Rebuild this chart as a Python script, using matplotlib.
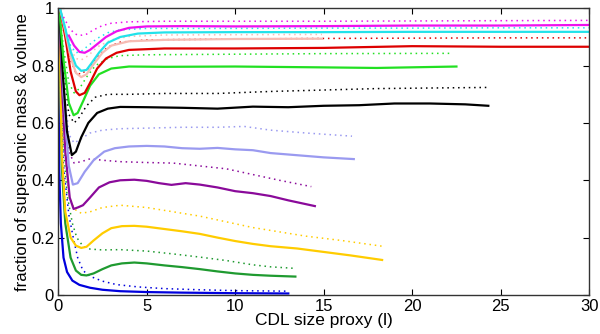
import matplotlib
matplotlib.use("Agg")
import matplotlib.pyplot as plt

plt.rcParams["font.family"] = ["Liberation Sans", "DejaVu Sans"]
plt.rcParams["font.size"] = 12

# (color, x, y) for each solid curve (mass) and dotted curve (volume)
magenta_x = [0.6, 0.9, 1.2, 1.5, 1.8, 2.2, 2.7, 3.3, 4, 5, 7, 10, 15, 20, 25, 30]
magenta_y = [0.905, 0.87, 0.848, 0.845, 0.855, 0.875, 0.9, 0.92, 0.932, 0.937, 0.938, 0.937, 0.938, 0.94, 0.94, 0.942]
magenta_dx = [0.3, 0.6, 0.9, 1.2, 1.6, 2.0, 2.5, 3.0, 4, 6, 10, 15, 20, 25, 30]
magenta_dy = [0.97, 0.935, 0.912, 0.905, 0.91, 0.925, 0.94, 0.948, 0.953, 0.955, 0.955, 0.955, 0.956, 0.957, 0.958]

cyan_x = [0.1, 0.4, 0.7, 1.0, 1.3, 1.6, 1.9, 2.3, 2.8, 3.5, 4.5, 6, 10, 15, 20, 25, 30]
cyan_y = [1.0, 0.93, 0.85, 0.8, 0.782, 0.785, 0.81, 0.845, 0.88, 0.9, 0.912, 0.916, 0.917, 0.917, 0.918, 0.918, 0.918]
cyan_dx = [0.1, 0.4, 0.7, 1.0, 1.3, 1.7, 2.2, 2.8, 3.5, 5, 10, 15, 20, 25, 30]
cyan_dy = [1.0, 0.93, 0.87, 0.845, 0.85, 0.87, 0.895, 0.915, 0.925, 0.93, 0.93, 0.931, 0.931, 0.932, 0.932]

pink_x = [0.1, 0.4, 0.7, 1.0, 1.3, 1.6, 2.0, 2.5, 3.0, 4, 6, 10, 14.9]
pink_y = [1.0, 0.92, 0.83, 0.775, 0.76, 0.77, 0.805, 0.845, 0.87, 0.885, 0.89, 0.893, 0.894]
pink_dx = [0.1, 0.4, 0.7, 1.0, 1.3, 1.7, 2.2, 3, 4, 6, 10, 14.9]
pink_dy = [1.0, 0.93, 0.86, 0.825, 0.82, 0.835, 0.865, 0.89, 0.902, 0.907, 0.908, 0.909]

red_x = [0.1, 0.4, 0.7, 1.0, 1.2, 1.5, 1.8, 2.2, 2.7, 3.3, 4, 6, 10, 15, 20, 25, 30]
red_y = [1.0, 0.9, 0.78, 0.71, 0.697, 0.705, 0.74, 0.79, 0.825, 0.845, 0.855, 0.86, 0.86, 0.862, 0.868, 0.866, 0.866]
red_dx = [0.1, 0.4, 0.7, 1.0, 1.3, 1.7, 2.2, 2.8, 3.5, 5, 10, 15, 20, 25, 30]
red_dy = [1.0, 0.91, 0.82, 0.775, 0.77, 0.79, 0.83, 0.865, 0.882, 0.89, 0.893, 0.895, 0.896, 0.897, 0.897]

lime_x = [0.05, 0.3, 0.6, 0.87, 1.1, 1.4, 1.8, 2.3, 3.0, 4, 6, 10, 15, 18, 22.5]
lime_y = [1.0, 0.82, 0.67, 0.627, 0.635, 0.675, 0.73, 0.77, 0.79, 0.797, 0.796, 0.797, 0.794, 0.792, 0.797]
lime_dx = [0.05, 0.3, 0.6, 0.9, 1.2, 1.6, 2.1, 2.8, 3.5, 5, 10, 15, 22.3]
lime_dy = [1.0, 0.86, 0.74, 0.705, 0.72, 0.76, 0.8, 0.825, 0.835, 0.838, 0.84, 0.842, 0.843]

black_x = [0.05, 0.25, 0.5, 0.77, 1.0, 1.3, 1.7, 2.2, 2.8, 3.5, 5, 7, 9, 11, 13, 15, 17, 19, 21, 23, 24.3]
black_y = [1.0, 0.78, 0.57, 0.488, 0.5, 0.55, 0.6, 0.635, 0.65, 0.656, 0.655, 0.653, 0.65, 0.657, 0.655, 0.66, 0.662, 0.668, 0.668, 0.665, 0.66]
black_dx = [0.05, 0.3, 0.6, 0.9, 1.2, 1.6, 2.1, 2.8, 4, 6, 9, 12, 15, 18, 21, 24.2]
black_dy = [1.0, 0.8, 0.63, 0.6, 0.62, 0.66, 0.69, 0.7, 0.7, 0.703, 0.703, 0.71, 0.715, 0.72, 0.722, 0.724]

lav_x = [0.05, 0.3, 0.6, 0.83, 1.1, 1.5, 2.0, 2.6, 3.2, 4, 5, 6, 7, 8, 9, 10, 11, 12, 13, 14, 15, 16.7]
lav_y = [1.0, 0.7, 0.45, 0.385, 0.39, 0.43, 0.47, 0.5, 0.512, 0.518, 0.52, 0.518, 0.512, 0.51, 0.513, 0.508, 0.505, 0.495, 0.49, 0.485, 0.48, 0.474]
lav_dx = [0.05, 0.3, 0.6, 0.9, 1.3, 1.8, 2.5, 3.5, 5, 7, 9, 10.5, 12, 14, 16.6]
lav_dy = [1.0, 0.75, 0.56, 0.53, 0.545, 0.565, 0.575, 0.58, 0.582, 0.585, 0.585, 0.588, 0.575, 0.565, 0.554]

purple_x = [0.05, 0.2, 0.4, 0.65, 0.87, 1.1, 1.4, 1.8, 2.3, 2.9, 3.5, 4.3, 5, 5.7, 6.4, 7.2, 8, 9, 10, 11, 12, 13, 14.5]
purple_y = [1.0, 0.75, 0.5, 0.34, 0.3, 0.305, 0.313, 0.34, 0.375, 0.393, 0.4, 0.402, 0.398, 0.39, 0.384, 0.39, 0.385, 0.375, 0.362, 0.355, 0.345, 0.33, 0.31]
purple_dx = [0.05, 0.3, 0.6, 0.9, 1.3, 1.8, 2.5, 3.5, 5, 6.5, 8, 9.5, 11, 12.5, 14.3]
purple_dy = [1.0, 0.7, 0.5, 0.46, 0.465, 0.475, 0.47, 0.465, 0.462, 0.46, 0.45, 0.44, 0.42, 0.4, 0.378]

gold_x = [0.05, 0.2, 0.4, 0.7, 1.0, 1.3, 1.6, 2.0, 2.5, 3.0, 3.6, 4.3, 5, 6, 7, 8, 9, 10, 11, 12, 13.5, 15, 16.5, 18.3]
gold_y = [1.0, 0.5, 0.29, 0.2, 0.172, 0.164, 0.168, 0.19, 0.215, 0.233, 0.24, 0.241, 0.238, 0.23, 0.222, 0.213, 0.2, 0.188, 0.178, 0.17, 0.162, 0.15, 0.138, 0.122]
gold_dx = [0.05, 0.3, 0.6, 0.9, 1.3, 1.8, 2.5, 3.5, 5, 6.5, 8, 9.5, 11, 12.5, 14, 16, 18.3]
gold_dy = [1.0, 0.55, 0.35, 0.3, 0.285, 0.29, 0.305, 0.313, 0.305, 0.29, 0.275, 0.255, 0.235, 0.22, 0.205, 0.19, 0.17]

green_x = [0.05, 0.2, 0.4, 0.7, 1.0, 1.3, 1.6, 2.0, 2.5, 3.0, 3.6, 4.3, 5, 6, 7, 8, 9, 10, 11, 12, 13.4]
green_y = [1.0, 0.45, 0.25, 0.13, 0.085, 0.07, 0.068, 0.075, 0.09, 0.103, 0.11, 0.113, 0.11, 0.103, 0.097, 0.09, 0.082, 0.075, 0.07, 0.067, 0.064]
green_dx = [0.05, 0.2, 0.5, 0.8, 1.05, 1.4, 1.8, 2.5, 3.5, 5, 6.5, 8, 9.5, 11, 12, 13.3]
green_dy = [0.9, 0.6, 0.35, 0.25, 0.2, 0.17, 0.16, 0.157, 0.158, 0.153, 0.143, 0.132, 0.12, 0.105, 0.098, 0.093]

blue_x = [0.0, 0.05, 0.15, 0.3, 0.5, 0.8, 1.2, 1.8, 2.5, 3.5, 5, 7, 10, 13.0]
blue_y = [1.0, 0.45, 0.25, 0.13, 0.08, 0.05, 0.035, 0.025, 0.018, 0.013, 0.01, 0.008, 0.006, 0.005]
blue_dx = [0.05, 0.3, 0.6, 0.85, 1.1, 1.4, 1.8, 2.5, 3.3, 4.5, 6, 8, 10, 13.0]
blue_dy = [0.8, 0.45, 0.28, 0.2, 0.13, 0.085, 0.065, 0.048, 0.036, 0.028, 0.022, 0.018, 0.015, 0.013]

curves = [
    ("#0000dd", blue_x, blue_y, blue_dx, blue_dy),
    ("#1f9a30", green_x, green_y, green_dx, green_dy),
    ("#ffcc00", gold_x, gold_y, gold_dx, gold_dy),
    ("#8a0a9a", purple_x, purple_y, purple_dx, purple_dy),
    ("#9a9af0", lav_x, lav_y, lav_dx, lav_dy),
    ("#000000", black_x, black_y, black_dx, black_dy),
    ("#22e022", lime_x, lime_y, lime_dx, lime_dy),
    ("#dd0000", red_x, red_y, red_dx, red_dy),
    ("#f6bcb4", pink_x, pink_y, pink_dx, pink_dy),
    ("#22e2ea", cyan_x, cyan_y, cyan_dx, cyan_dy),
    ("#ee11ee", magenta_x, magenta_y, magenta_dx, magenta_dy),
]

fig = plt.figure(figsize=(6.0, 3.34), dpi=100)
ax = fig.add_axes([0.097, 0.117, 0.885, 0.858])

for color, x, y, dx, dy in curves:
    ax.plot(dx, dy, color=color, linestyle=(0, (1, 2.5)), linewidth=1.1)
    ax.plot(x, y, color=color, linewidth=1.6)

ax.set_xlim(0, 30)
ax.set_ylim(0, 1)
ax.set_xticks([0, 5, 10, 15, 20, 25, 30])
ax.set_yticks([0, 0.2, 0.4, 0.6, 0.8, 1])
ax.set_yticklabels(["0", "0.2", "0.4", "0.6", "0.8", "1"])
ax.tick_params(direction="in", top=True, right=True, length=4, width=0.8,
               labelsize=12, pad=3)
for s in ax.spines.values():
    s.set_linewidth(1.0)
    s.set_color("#333333")
ax.set_xlabel("CDL size proxy (l)", fontsize=12.5, labelpad=-1)
ax.set_ylabel("fraction of supersonic mass & volume", fontsize=12, labelpad=1)

fig.savefig("out.png", dpi=100)
